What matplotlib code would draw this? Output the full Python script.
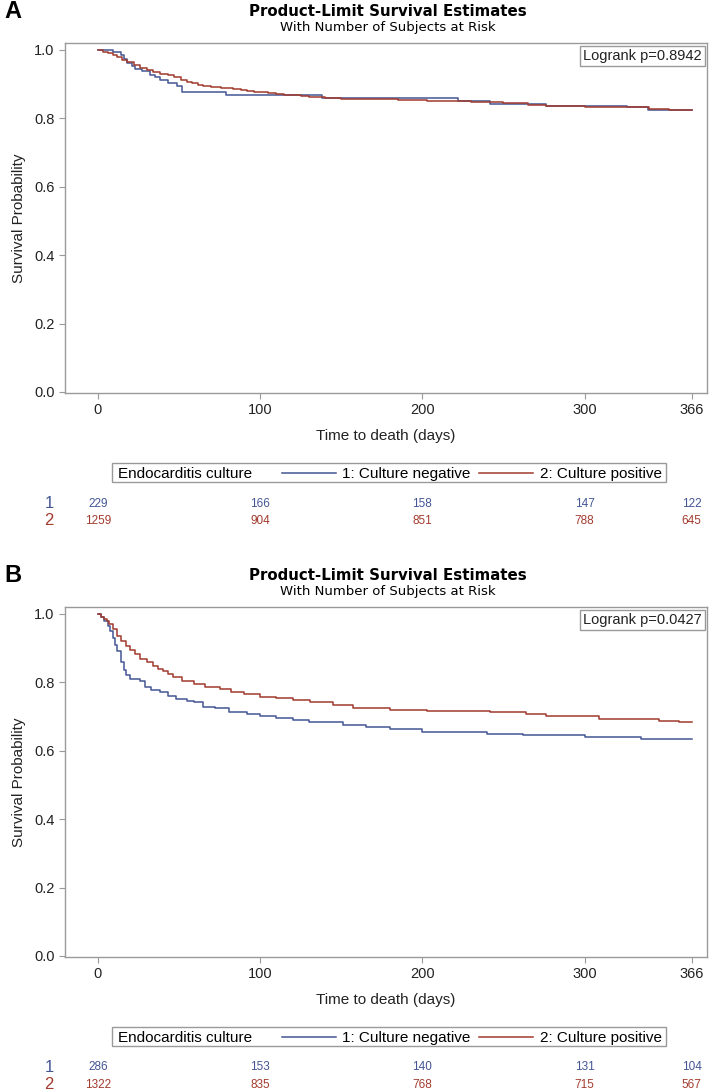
import matplotlib
matplotlib.use("Agg")
import matplotlib.pyplot as plt
from matplotlib.lines import Line2D
from matplotlib.patches import Rectangle
import matplotlib.transforms as mtransforms

# Panel A: Kaplan-Meier curves (time in days, survival)
a_neg_t = [0, 9, 14, 16, 18, 21, 23, 27, 32, 35, 38, 43, 49, 52, 79, 138, 222, 242, 276, 326, 339, 366]
a_neg_s = [1.0, 0.995, 0.985, 0.972, 0.962, 0.953, 0.944, 0.938, 0.927, 0.920, 0.912, 0.904, 0.895,
           0.877, 0.868, 0.858, 0.851, 0.842, 0.836, 0.833, 0.824, 0.823]
a_pos_t = [0, 3, 6, 9, 12, 15, 18, 22, 26, 30, 34, 38, 43, 47, 51, 55, 58, 62, 65, 70, 76, 83, 88, 92,
           96, 100, 105, 110, 115, 120, 125, 130, 140, 150, 165, 185, 203, 230, 250, 265, 276, 300,
           326, 340, 352, 366]
a_pos_s = [1.0, 0.995, 0.99, 0.984, 0.978, 0.971, 0.965, 0.957, 0.948, 0.940, 0.934, 0.930, 0.927,
           0.920, 0.912, 0.906, 0.902, 0.897, 0.893, 0.891, 0.889, 0.886, 0.883, 0.880, 0.878, 0.876,
           0.874, 0.872, 0.869, 0.867, 0.865, 0.863, 0.860, 0.857, 0.856, 0.853, 0.850, 0.849, 0.845,
           0.840, 0.836, 0.834, 0.832, 0.828, 0.824, 0.823]

# Panel B
b_neg_t = [0, 2, 4, 6, 7.5, 9, 10.5, 12, 14, 16, 17.5, 20, 26, 29, 33, 38, 43, 48, 55, 59, 65, 72,
           81, 92, 100, 110, 120, 130, 151, 165, 180, 200, 240, 262, 300, 335, 366]
b_neg_s = [1.0, 0.99, 0.98, 0.965, 0.95, 0.93, 0.91, 0.89, 0.86, 0.835, 0.822, 0.809, 0.803, 0.785,
           0.778, 0.771, 0.760, 0.750, 0.745, 0.741, 0.729, 0.725, 0.712, 0.706, 0.700, 0.695, 0.691,
           0.685, 0.674, 0.668, 0.662, 0.655, 0.650, 0.645, 0.640, 0.635, 0.635]
b_pos_t = [0, 2, 4, 5.5, 7, 9, 11.5, 14, 17.5, 20, 23, 26, 30, 34, 37, 40, 43, 46, 52, 59, 66, 75,
           82, 90, 100, 110, 120, 131, 145, 157, 180, 203, 242, 264, 276, 309, 346, 358, 366]
b_pos_s = [1.0, 0.992, 0.985, 0.979, 0.97, 0.955, 0.935, 0.92, 0.906, 0.895, 0.882, 0.868, 0.858,
           0.847, 0.840, 0.832, 0.823, 0.815, 0.804, 0.794, 0.786, 0.779, 0.772, 0.765, 0.758, 0.753,
           0.747, 0.741, 0.734, 0.726, 0.720, 0.715, 0.712, 0.706, 0.700, 0.694, 0.688, 0.685, 0.685]

risk_times = [0, 100, 200, 300, 366]
a_risk_neg = [229, 166, 158, 147, 122]
a_risk_pos = [1259, 904, 851, 788, 645]
b_risk_neg = [286, 153, 140, 131, 104]
b_risk_pos = [1322, 835, 768, 715, 567]

pvals = ["Logrank p=0.8942", "Logrank p=0.0427"]
group_names = ["1: Culture negative", "2: Culture positive"]

BLUE = "#445694"
RED = "#A23A2E"
GREY = "#9a9a9a"
SANS = ["Liberation Sans", "DejaVu Sans"]

W, H = 715, 1090
fig = plt.figure(figsize=(W / 100, H / 100), dpi=100)


def fx(px):
    return px / W


def fy(py):
    return 1 - py / H


def panel(off, letter, neg_t, neg_s, pos_t, pos_s, pval, risk_neg, risk_pos):
    # off = vertical pixel offset of the panel
    ax = fig.add_axes([fx(65), fy(393 + off), fx(707) - fx(65), fy(43 + off) - fy(393 + off)])
    ax.step(neg_t, neg_s, where="post", color=BLUE, lw=1.1)
    ax.step(pos_t, pos_s, where="post", color=RED, lw=1.1)
    ax.set_xlim(-20.3, 375.5)
    ax.set_ylim(-0.003, 1.02)
    ax.set_xticks([0, 100, 200, 300, 366])
    ax.set_yticks([0.0, 0.2, 0.4, 0.6, 0.8, 1.0])
    ax.set_yticklabels(["0.0", "0.2", "0.4", "0.6", "0.8", "1.0"])
    for sp in ax.spines.values():
        sp.set_color(GREY)
        sp.set_linewidth(1.0)
    ax.tick_params(direction="out", length=4.5, width=0.8, color=GREY, labelsize=10.5, pad=3,
                   labelcolor="#222222")
    for lab in ax.get_xticklabels() + ax.get_yticklabels():
        lab.set_family(SANS)
    ax.set_xlabel("Time to death (days)", family=SANS, fontsize=11, color="#222222", labelpad=8)
    ax.set_ylabel("Survival Probability", family=SANS, fontsize=11, color="#222222", labelpad=6)
    ax.text(0.992, 0.983, pval, transform=ax.transAxes, ha="right", va="top", family=SANS,
            fontsize=10.5, color="#222222",
            bbox=dict(boxstyle="square,pad=0.22", fc="white", ec=GREY, lw=1.0))

    fig.text(fx(4), fy(12 + off), letter, family=SANS, weight="bold", fontsize=17, va="center")
    fig.text(fx(388), fy(12 + off), "Product-Limit Survival Estimates", ha="center", va="center",
             family=["DejaVu Sans"], weight="bold", fontsize=10.8)
    fig.text(fx(388), fy(28 + off), "With Number of Subjects at Risk", ha="center", va="center",
             family=["DejaVu Sans"], fontsize=9.5)

    # legend box
    fig.patches.append(Rectangle((fx(112), fy(482 + off)), fx(666) - fx(112), fy(463 + off) - fy(482 + off),
                                 transform=fig.transFigure, fill=False, ec=GREY, lw=1.0))
    ly = fy(472.5 + off)
    fig.text(fx(118), ly, "Endocarditis culture", family=SANS, fontsize=11, va="center_baseline")
    fig.lines.append(Line2D([fx(282), fx(336)], [ly, ly], transform=fig.transFigure, color=BLUE, lw=1.1))
    fig.text(fx(342), ly, group_names[0], family=SANS, fontsize=11, va="center_baseline")
    fig.lines.append(Line2D([fx(479), fx(533)], [ly, ly], transform=fig.transFigure, color=RED, lw=1.1))
    fig.text(fx(540), ly, group_names[1], family=SANS, fontsize=11, va="center_baseline")

    # numbers at risk
    tr = mtransforms.blended_transform_factory(ax.transData, fig.transFigure)
    for row, (vals, col, name) in enumerate([(risk_neg, BLUE, "1"), (risk_pos, RED, "2")]):
        yy = fy(502 + 17 * row + off)
        fig.text(fx(49), yy, name, color=col, family=SANS, fontsize=12, ha="center",
                 va="center_baseline")
        for t, v in zip(risk_times, vals):
            ax.text(t, yy, str(v), transform=tr, color=col, family=SANS, fontsize=8.5,
                    ha="center", va="center_baseline", clip_on=False)


panel(0, "A", a_neg_t, a_neg_s, a_pos_t, a_pos_s, pvals[0], a_risk_neg, a_risk_pos)
panel(564, "B", b_neg_t, b_neg_s, b_pos_t, b_pos_s, pvals[1], b_risk_neg, b_risk_pos)

fig.savefig("out.png", dpi=100)
